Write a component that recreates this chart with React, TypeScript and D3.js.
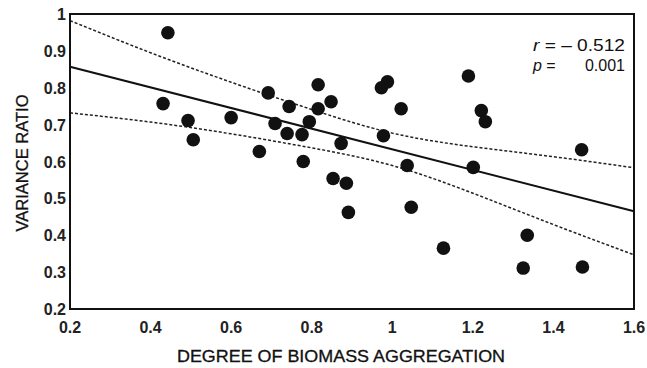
import * as d3 from "d3";
import React from "react";

// scatter points
const aggregation = [
  0.443, 0.431, 0.493, 0.506, 0.6, 0.67, 0.692, 0.744, 0.709, 0.739,
  0.776, 0.794, 0.779, 0.816, 0.816, 0.848, 0.873, 0.853, 0.886, 0.891,
  0.973, 0.988, 1.022, 0.978, 1.037, 1.047, 1.189, 1.201, 1.221, 1.231,
  1.47, 1.127, 1.335, 1.325, 1.472,
];
const varianceRatio = [
  0.949, 0.757, 0.711, 0.659, 0.719, 0.627, 0.786, 0.749, 0.703, 0.676,
  0.673, 0.708, 0.6, 0.808, 0.743, 0.762, 0.649, 0.554, 0.541, 0.462,
  0.8, 0.816, 0.743, 0.67, 0.589, 0.476, 0.832, 0.584, 0.738, 0.708,
  0.632, 0.365, 0.4, 0.311, 0.314,
];

// regression line and confidence band
const fitX = [0.2, 1.6];
const fitY = [0.857, 0.465];
const bandX = [0.2, 0.4, 0.6, 0.8, 1.0, 1.2, 1.4, 1.6];
const bandUpper = [0.982, 0.895, 0.815, 0.741, 0.677, 0.64, 0.613, 0.583];
const bandLower = [0.732, 0.707, 0.675, 0.637, 0.589, 0.514, 0.429, 0.347];

const xTicks = [0.2, 0.4, 0.6, 0.8, 1, 1.2, 1.4, 1.6];
const yTicks = [0.2, 0.3, 0.4, 0.5, 0.6, 0.7, 0.8, 0.9, 1];

const width = 647;
const height = 368;
const left = 70, right = 634, top = 14, bottom = 309;
const font = "'Liberation Sans', Arial, sans-serif";

const App: React.FC = () => {
  const x = d3.scaleLinear().domain([0.2, 1.6]).range([left, right]);
  const y = d3.scaleLinear().domain([0.2, 1]).range([bottom, top]);

  const fitLine = d3.line<number>()
    .x((_, i) => x(fitX[i]))
    .y(d => y(d));
  const bandLine = d3.line<number>()
    .x((_, i) => x(bandX[i]))
    .y(d => y(d))
    .curve(d3.curveNatural);

  return (
    <svg width={width} height={height} style={{ position: "absolute", left: 0, top: 0, background: "#fff" }}
      fontFamily={font}>
      <path d={bandLine(bandUpper)!} fill="none" stroke="#222" strokeWidth={1.5} strokeDasharray="3,2" />
      <path d={bandLine(bandLower)!} fill="none" stroke="#222" strokeWidth={1.5} strokeDasharray="3,2" />
      <path d={fitLine(fitY)!} fill="none" stroke="#111" strokeWidth={2} />

      {aggregation.map((d, i) => (
        <circle key={i} cx={x(d)} cy={y(varianceRatio[i])} r={6.8} fill="#111" />
      ))}

      <rect x={left} y={top} width={right - left} height={bottom - top} fill="none" stroke="#111" strokeWidth={2} />

      {yTicks.map(t => (
        <text key={t} x={left - 4} y={y(t) + 6} textAnchor="end" fontSize={16} fontWeight="bold" fill="#222">
          {d3.format("~g")(t)}
        </text>
      ))}
      {xTicks.map(t => (
        <text key={t} x={x(t)} y={333} textAnchor="middle" fontSize={16} fontWeight="bold" fill="#222">
          {d3.format("~g")(t)}
        </text>
      ))}

      <text x={341} y={362} textAnchor="middle" fontSize={16} fill="#111" stroke="#111" strokeWidth={0.3}
        textLength={328} lengthAdjust="spacingAndGlyphs">DEGREE OF BIOMASS AGGREGATION</text>
      <text transform={`translate(28,163) rotate(-90)`} textAnchor="middle" fontSize={16} fill="#111"
        stroke="#111" strokeWidth={0.3}
        textLength={137} lengthAdjust="spacingAndGlyphs">VARIANCE RATIO</text>

      <text x={533} y={51} fontSize={16} fill="#111" textLength={92} lengthAdjust="spacingAndGlyphs">
        <tspan fontStyle="italic">r</tspan> = – 0.512
      </text>
      <text x={533} y={71} fontSize={16} fill="#111">
        <tspan fontStyle="italic">p</tspan> =
      </text>
      <text x={625} y={71} textAnchor="end" fontSize={16} fill="#111">0.001</text>
    </svg>
  );
};

export default App;
